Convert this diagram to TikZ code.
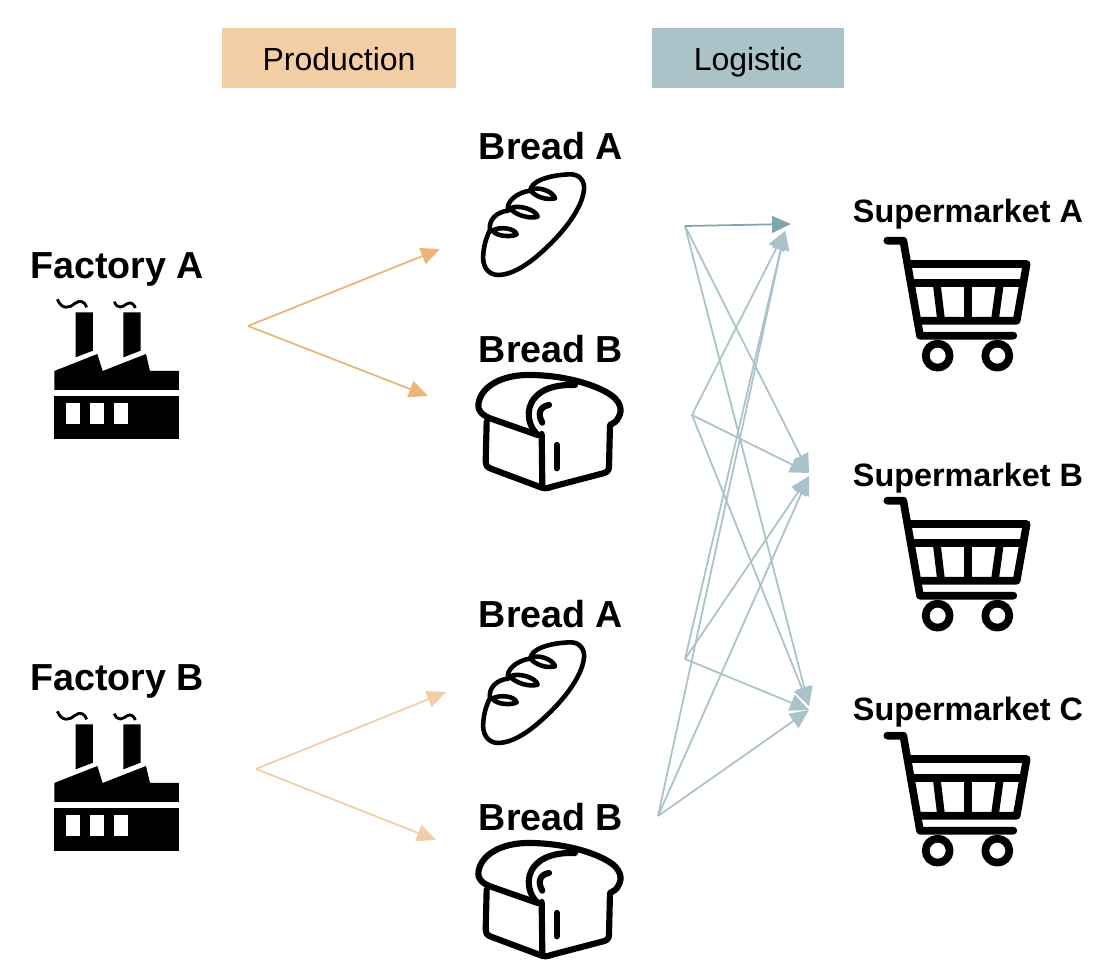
\documentclass[tikz,border=0pt]{standalone}
\usepackage{fontspec}
\setmainfont{Liberation Sans}
\usetikzlibrary{arrows.meta}
\definecolor{prodorange}{RGB}{243, 205, 163}
\definecolor{prodstrong}{RGB}{234, 182, 118}
\definecolor{logblue}{RGB}{169, 195, 201}
\definecolor{logstrong}{RGB}{127, 165, 175}
\tikzset{
    stagebox/.style={minimum height=0.6cm, inner sep=0pt, text height=6.9pt, text depth=0pt, font=\fontsize{9.1}{11}\selectfont},
    owner/.style={font=\fontsize{10.7}{12}\selectfont\bfseries},
    shop/.style={font=\fontsize{9.2}{11}\selectfont\bfseries},
    flow/.style={line width=0.5pt, -{Triangle[length=5.4pt,width=4.8pt]}},
    icon/.style={black, line width=1.3pt, line cap=round, line join=round},
    factory/.pic={
        \fill (103,468) rectangle (477,597);
        \fill[white] (137,488) rectangle (179,552);
        \fill[white] (210,488) rectangle (252,552);
        \fill[white] (282,488) rectangle (323,552);
        \fill (103,393) -- (232,342) -- (248,393) -- (378,342) -- (390,393) -- (477,393) -- (477,450) -- (103,450) -- cycle;
        \fill (167,217) -- (219,217) -- (219,332) -- (167,352) -- cycle;
        \fill (310,217) -- (362,217) -- (362,332) -- (310,352) -- cycle;
        % smoke
        \draw[line width=0.8pt] (112,178) .. controls (125,210) and (150,205) .. (165,190) .. controls (180,178) and (195,185) .. (200,202);
        \draw[line width=0.8pt] (283,185) .. controls (292,210) and (310,200) .. (320,192) .. controls (332,184) and (342,192) .. (346,204);
    },
    loaf/.pic={
        \draw[icon] (100,465) .. controls (70,465) and (50,440) .. (55,400)
            .. controls (58,370) and (65,350) .. (75,330)
            .. controls (70,300) and (95,275) .. (130,272)
            .. controls (120,245) and (160,215) .. (197,212)
            .. controls (195,185) and (250,165) .. (315,163)
            .. controls (345,162) and (360,185) .. (357,210)
            .. controls (350,270) and (290,345) .. (220,405)
            .. controls (180,440) and (135,465) .. (100,465) -- cycle;
        % cuts
        \draw[icon] (82,332) .. controls (105,318) and (150,325) .. (155,343) .. controls (140,352) and (95,350) .. (82,332) -- cycle;
        \draw[icon] (135,265) .. controls (160,252) and (215,270) .. (218,290) .. controls (195,298) and (150,285) .. (135,265) -- cycle;
        \draw[icon] (195,210) .. controls (220,197) and (265,215) .. (270,235) .. controls (245,242) and (210,230) .. (195,210) -- cycle;
    },
    slice/.pic={
        \draw[icon, line width=1.75pt] (218,945) -- (75,895) .. controls (50,885) and (38,870) .. (40,855)
            .. controls (45,800) and (110,765) .. (190,765)
            .. controls (290,765) and (380,790) .. (430,820)
            .. controls (465,840) and (475,870) .. (460,893)
            .. controls (455,905) and (445,910) .. (435,915)
            -- (432,1040) .. controls (432,1052) and (425,1058) .. (415,1060)
            -- (262,1100) .. controls (245,1107) and (235,1106) .. (222,1100)
            -- (75,1045) .. controls (65,1040) and (62,1035) .. (62,1025) -- (65,905);
        \draw[icon, line width=1.75pt] (218,945) .. controls (170,900) and (175,790) .. (330,795);
        \draw[icon, line width=1.75pt] (230,942) -- (232,1098);
        \draw[icon, line width=1.75pt] (252,855) .. controls (222,860) and (218,885) .. (232,908);
        \draw[icon, line width=1.75pt] (275,975) -- (275,1045);
    },
    cart/.pic={
        \draw[icon, line width=2.2pt] (52,152) -- (100,152) -- (150,437) -- (430,437);
        \draw[icon, line width=2.2pt] (118,222) -- (470,222) -- (440,392) -- (150,392);
        \draw[icon, line width=2.2pt] (125,280) -- (460,280);
        \draw[icon, line width=2.2pt] (200,280) -- (213,388);
        \draw[icon, line width=2.2pt, line cap=butt] (295,280) -- (295,390);
        \draw[icon, line width=2.2pt] (390,280) -- (375,388);
        \draw[icon, line width=2.2pt] (203,497) circle (36);
        \draw[icon, line width=2.2pt] (382,497) circle (36);
    }
}
\begin{document}
\begin{tikzpicture}[x=0.01cm,y=-0.01cm]
    \useasboundingbox (0,0) rectangle (1106,970);

    \node[stagebox, fill=prodorange, minimum width=2.34cm] (production) at (339,58) {Production};
    \node[stagebox, fill=logblue, minimum width=1.92cm] (logistic) at (748,58) {Logistic};

    \node[owner] (factoryA) at (117,269) {Factory A};
    \node[owner] (factoryB) at (117,681) {Factory B};
    \pic[scale=0.3333] at (20,240) {factory};
    \pic[scale=0.3333] at (20,652) {factory};

    \node[owner] (breadAa) at (551,146) {Bread A};
    \node[owner] (breadBa) at (551,349) {Bread B};
    \node[owner] (breadAb) at (551,614) {Bread A};
    \node[owner] (breadBb) at (551,817) {Bread B};
    \pic[scale=0.3333] at (465,120) {loaf};
    \pic[scale=0.3333] at (465,120) {slice};
    \pic[scale=0.3333] at (465,588) {loaf};
    \pic[scale=0.3333] at (465,588) {slice};

    \node[shop] (marketA) at (968,214) {Supermarket A};
    \node[shop] (marketB) at (968,478) {Supermarket B};
    \node[shop] (marketC) at (968,712) {Supermarket C};
    \pic[scale=0.3333] at (870,190) {cart};
    \pic[scale=0.3333] at (870,450) {cart};
    \pic[scale=0.3333] at (870,685) {cart};

    % production arrows
    \coordinate (fromA) at (248,326);
    \coordinate (fromB) at (256,769);
    \coordinate (toAa) at (440,249);
    \coordinate (toBa) at (428,396);
    \coordinate (toAb) at (446,692);
    \coordinate (toBb) at (436,840);
    \draw[flow, prodstrong] (fromA) -- (toAa);
    \draw[flow, prodstrong] (fromA) -- (toBa);
    \draw[flow, prodorange] (fromB) -- (toAb);
    \draw[flow, prodorange] (fromB) -- (toBb);

    % logistic arrows
    \coordinate (s1) at (685,226);
    \coordinate (s2) at (692,415);
    \coordinate (s3) at (685,659);
    \coordinate (s4) at (658,816);
    \coordinate (t1) at (785,231);
    \coordinate (t2) at (809,473);
    \coordinate (t2b) at (809,476);
    \coordinate (t3) at (809,706);
    \coordinate (t3b) at (809,710);
    \foreach \a/\b in {s1/t2,s1/t3,s2/t1,s2/t2,s2/t3,s3/t1,s3/t2b,s3/t3b,s4/t1,s4/t2b,s4/t3b}
        \draw[flow, logblue] (\a) -- (\b);
    \coordinate (t1top) at (791,224);
    \draw[flow, logstrong] (s1) -- (t1top);
\end{tikzpicture}
\end{document}
